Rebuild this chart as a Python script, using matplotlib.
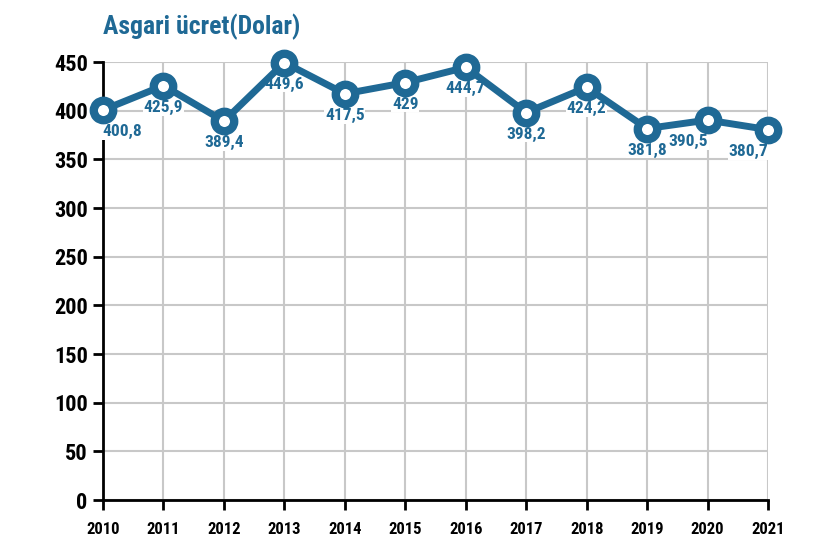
import matplotlib
matplotlib.use("Agg")
import matplotlib.pyplot as plt
from matplotlib import font_manager

years = [2010, 2011, 2012, 2013, 2014, 2015, 2016, 2017, 2018, 2019, 2020, 2021]
values = [400.8, 425.9, 389.4, 449.6, 417.5, 429.0, 444.7, 398.2, 424.2, 381.8, 390.5, 380.7]
labels = ["400,8", "425,9", "389,4", "449,6", "417,5", "429", "444,7", "398,2", "424,2", "381,8", "390,5", "380,7"]
yticks = [0, 50, 100, 150, 200, 250, 300, 350, 400, 450]
title = "Asgari ücret(Dolar)"

names = {f.name for f in font_manager.fontManager.ttflist}
fam = "Roboto Condensed" if "Roboto Condensed" in names else "Roboto"
plt.rcParams['font.family'] = [fam, 'DejaVu Sans']

blue = '#1f6995'
fig = plt.figure(figsize=(8.4, 5.6), dpi=100)
ax = fig.add_axes([0.1226, 0.107, 0.7917, 0.782])
ax.set_xlim(years[0], years[-1])
ax.set_ylim(0, 450)

ax.set_xticks(years)
ax.set_xticklabels([str(y) for y in years], fontsize=12, fontweight='bold')
ax.set_yticks(yticks)
ax.set_yticklabels([str(v) for v in yticks], fontsize=16, fontweight='bold')
ax.grid(True, color='#c8c8c8', linewidth=1.5)
ax.set_axisbelow(True)
for s in ['top', 'right']:
    ax.spines[s].set_visible(False)
for s in ['left', 'bottom']:
    ax.spines[s].set_linewidth(2)
    ax.spines[s].set_color('black')
    ax.spines[s].set_zorder(2.5)
ax.tick_params(axis='both', direction='out', length=7, width=2, color='black', pad=4)
ax.tick_params(axis='x', pad=9)

ax.plot(years, values, color=blue, linewidth=5, marker='o', markersize=14,
        markerfacecolor='white', markeredgecolor=blue, markeredgewidth=6,
        clip_on=False, zorder=5)

for i, (x, v, t) in enumerate(zip(years, values, labels)):
    dx = 0
    if i == 0:
        dx = 14
    elif i in (10, 11):
        dx = -14
    ax.annotate(t, (x, v), xytext=(dx, -15.5), textcoords='offset points',
                ha='center', va='center', fontsize=12.5, fontweight='bold', color=blue,
                bbox=dict(boxstyle='square,pad=0.05', fc='white', ec='none'),
                zorder=4, annotation_clip=False)

fig.text(0.1226, 0.952, title, fontsize=18.5, fontweight='bold', color=blue, ha='left', va='center')

fig.savefig('out.png', dpi=100)
